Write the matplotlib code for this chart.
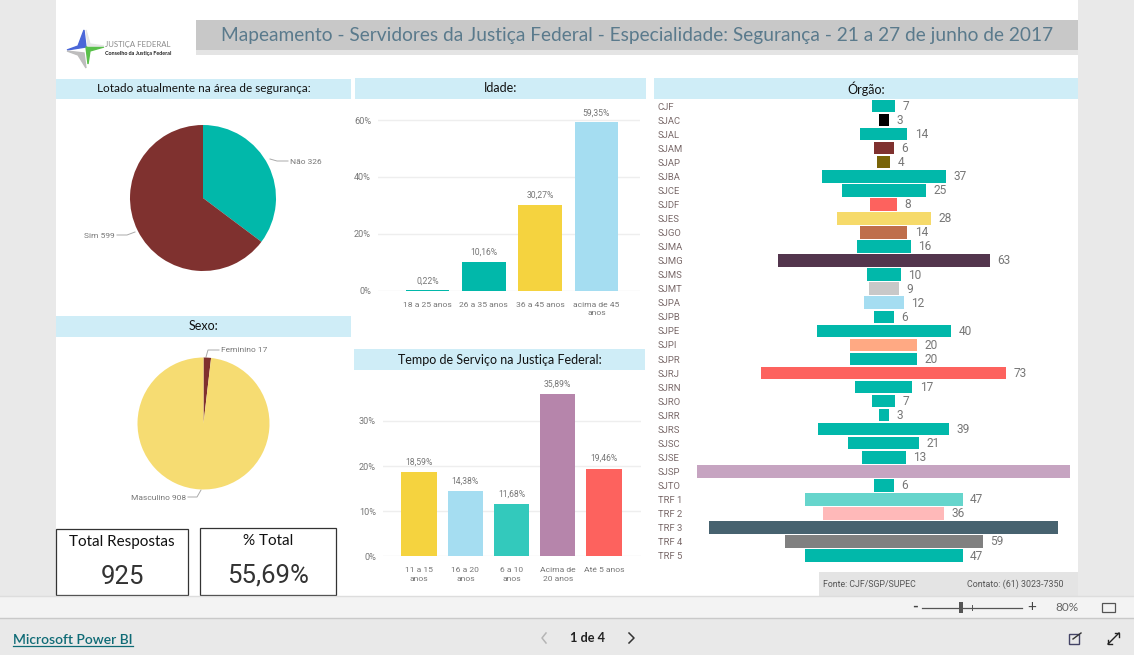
import matplotlib
matplotlib.use("Agg")
import matplotlib.pyplot as plt
from matplotlib.patches import Polygon, Rectangle

W, H = 1134, 655
plt.rcParams["font.family"] = ["Lato", "DejaVu Sans"]
LABEL_FONT = "Roboto"
GREY = "#777777"

# Values
lotado_labels = ["Não", "Sim"]
lotado_values = [326, 599]
sexo_labels = ["Feminino", "Masculino"]
sexo_values = [17, 908]

idade_labels = ["18 a 25 anos", "26 a 35 anos", "36 a 45 anos", "acima de 45\nanos"]
idade_values = [0.22, 10.16, 30.27, 59.35]
idade_colors = ["#01B8AA", "#01B8AA", "#F5D33F", "#A5DDF1"]
idade_ticks = [0, 20, 40, 60]

tempo_labels = ["11 a 15\nanos", "16 a 20\nanos", "6 a 10\nanos", "Acima de\n20 anos", "Até 5 anos"]
tempo_values = [18.59, 14.38, 11.68, 35.89, 19.46]
tempo_colors = ["#F5D33F", "#A5DDF1", "#33C9BC", "#B685AB", "#FD625E"]
tempo_ticks = [0, 10, 20, 30]

orgaos = ["CJF", "SJAC", "SJAL", "SJAM", "SJAP", "SJBA", "SJCE", "SJDF", "SJES", "SJGO", "SJMA",
          "SJMG", "SJMS", "SJMT", "SJPA", "SJPB", "SJPE", "SJPI", "SJPR", "SJRJ", "SJRN", "SJRO",
          "SJRR", "SJRS", "SJSC", "SJSE", "SJSP", "SJTO", "TRF 1", "TRF 2", "TRF 3", "TRF 4", "TRF 5"]
orgao_values = [7, 3, 14, 6, 4, 37, 25, 8, 28, 14, 16, 63, 10, 9, 12, 6, 40, 20, 20, 73, 17, 7,
                3, 39, 21, 13, 111, 6, 47, 36, 104, 59, 47]
orgao_colors = ["#01B8AA", "#000000", "#01B8AA", "#7F312F", "#796408", "#01B8AA", "#01B8AA", "#FD625E",
                "#F6DA6A", "#BF6E4B", "#01B8AA", "#53354D", "#01B8AA", "#C8C8C8", "#A5DDF1", "#01B8AA",
                "#01B8AA", "#FFA983", "#01B8AA", "#FD625E", "#01B8AA", "#01B8AA", "#01B8AA", "#01B8AA",
                "#01B8AA", "#01B8AA", "#C6A4C1", "#01B8AA", "#66D5CC", "#FFB9B9", "#47626F", "#808080",
                "#01B8AA"]
orgao_sem_rotulo = ["SJSP", "TRF 3"]

total_respostas = "925"
pct_total = "55,69%"


def px_axes(fig, left, top, right, bottom, **kw):
    return fig.add_axes([left / W, 1 - bottom / H, (right - left) / W, (bottom - top) / H], **kw)


fig = plt.figure(figsize=(W / 100, H / 100), dpi=100, facecolor="#E9E9E9")

# page furniture, drawn in pixel coordinates
bg = px_axes(fig, 0, 0, W, H)
bg.set_xlim(0, W)
bg.set_ylim(H, 0)
bg.axis("off")


def box(x0, y0, x1, y1, color, **kw):
    bg.add_patch(Rectangle((x0, y0), x1 - x0, y1 - y0, facecolor=color, edgecolor="none", **kw))


box(56, 0, 1078, 596, "white")
box(0, 596, W, 618, "#F3F3F3")
bg.plot([0, W], [596, 596], color="#DDDDDD", lw=1)
bg.plot([0, W], [618, 618], color="#C9C9C9", lw=1)

# title
box(196, 50, 1078, 55, "#E4E4E4")
box(196, 20, 1078, 50, "#C8C8C8")
bg.text(637, 35.5, "Mapeamento - Servidores da Justiça Federal - Especialidade: Segurança - 21 a 27 de junho de 2017",
        fontsize=13.8, color="#5A7A8C", ha="center", va="center")

# logo
bg.add_patch(Polygon([(67, 50), (78, 46), (84, 30), (86, 47)], color="#4A66D8"))
bg.add_patch(Polygon([(86, 47), (104, 47), (90, 51), (88, 64)], color="#59C04A"))
bg.add_patch(Polygon([(67, 51), (84, 53), (86, 68), (78, 55)], color="#BDBDBD"))
bg.add_patch(Polygon([(86, 30), (90, 44), (104, 46), (88, 46)], color="#E6E6E6"))
bg.text(105, 45, "JUSTIÇA FEDERAL", fontsize=5.6, color="#8A8A8A", va="center")
bg.text(105, 53, "Conselho da Justiça Federal", fontsize=3.9, color="#222222", va="center", weight="bold")

# panel headers
headers = [(56, 79, 351, 99, "Lotado atualmente na área de segurança:", 8.5),
           (355, 78, 646, 99, "Idade:", 9),
           (654, 78, 1078, 99, "Órgão:", 9),
           (56, 316, 351, 337, "Sexo:", 9),
           (354, 349, 645, 370, "Tempo de Serviço na Justiça Federal:", 9)]
for x0, y0, x1, y1, txt, size in headers:
    box(x0, y0, x1, y1, "#CFEDF7")
    bg.text((x0 + x1) / 2, (y0 + y1) / 2, txt, fontsize=size, color="#111111", ha="center", va="center")

# cards
for x0, y0, x1, y1, head, val, hy, vy in [(56, 529, 188, 595, "Total Respostas", total_respostas, 542, 577),
                                          (200, 528, 336, 595, "% Total", pct_total, 541, 576)]:
    bg.add_patch(Rectangle((x0, y0), x1 - x0, y1 - y0, facecolor="white", edgecolor="#333333", lw=0.9))
    bg.text((x0 + x1) / 2, hy, head, fontsize=11, color="#111111", ha="center", va="center")
    bg.text((x0 + x1) / 2, vy, val, fontsize=18.5, color="#333333", ha="center", va="center",
            family=LABEL_FONT)

# footer strip
box(819, 572, 1078, 596, "#E4E4E4")
bg.text(823, 584.5, "Fonte: CJF/SGP/SUPEC", fontsize=6.3, color="#555555", va="center", family=LABEL_FONT)
bg.text(967, 584.5, "Contato: (61) 3023-7350", fontsize=6.4, color="#555555", va="center", family=LABEL_FONT)

# zoom control and bottom bar
bg.text(915, 607, "-", fontsize=11, color="#444444", ha="center", va="center", weight="bold")
bg.plot([922, 1022], [607.5, 607.5], color="#555555", lw=0.9)
bg.plot([972, 972], [605, 610], color="#555555", lw=0.7)
box(959, 602, 963, 613, "#555555")
bg.text(1032, 607, "+", fontsize=11, color="#444444", ha="center", va="center")
bg.text(1067, 607.5, "80%", fontsize=8.5, color="#666666", ha="center", va="center")
bg.add_patch(Rectangle((1101.5, 603), 13, 9, facecolor="none", edgecolor="#555555", lw=0.9))
bg.text(13, 639.5, "Microsoft Power BI", fontsize=10, color="#0F6B76", va="center", weight="semibold")
bg.plot([13, 133], [646, 646], color="#0F6B76", lw=0.9)
bg.text(588, 638.5, "1 de 4", fontsize=9.2, color="#222222", ha="center", va="center", weight="bold")
bg.plot([546, 542, 546], [633, 638, 643], color="#B5B5B5", lw=1.1)
bg.plot([629, 634, 629], [633, 638, 643], color="#333333", lw=1.1)
bg.add_patch(Rectangle((1069, 634), 10, 10, facecolor="none", edgecolor="#444466", lw=1))
bg.plot([1073, 1081], [639, 633], color="#333333", lw=1)
bg.plot([1108, 1119], [644, 633], color="#222222", lw=1)
bg.plot([1108, 1108, 1112], [640, 644, 644], color="#222222", lw=1)
bg.plot([1115, 1119, 1119], [633, 633, 637], color="#222222", lw=1)

# pies
pie_a = px_axes(fig, 130, 125, 276, 271)
pie_a.pie(lotado_values, colors=["#01B8AA", "#7F312F"], startangle=90, counterclock=False, radius=1)
pie_a.set_xlim(-1, 1)
pie_a.set_ylim(-1, 1)
pie_b = px_axes(fig, 137.5, 357.5, 269.5, 489.5)
pie_b.pie(sexo_values, colors=["#7F312F", "#F6DC72"], startangle=90, counterclock=False, radius=1)
pie_b.set_xlim(-1, 1)
pie_b.set_ylim(-1, 1)

bg.plot([270, 277, 288], [159, 161, 161], color="#AAAAAA", lw=0.7)
bg.text(290, 161.5, f"{lotado_labels[0]} {lotado_values[0]}", fontsize=6, color=GREY, va="center", family=LABEL_FONT)
bg.plot([117, 127, 135], [235, 235, 232], color="#AAAAAA", lw=0.7)
bg.text(115, 235.5, f"{lotado_labels[1]} {lotado_values[1]}", fontsize=6, color=GREY, va="center", ha="right", family=LABEL_FONT)
bg.plot([206, 208, 219], [357, 350, 350], color="#AAAAAA", lw=0.7)
bg.text(221, 350, f"{sexo_labels[0]} {sexo_values[0]}", fontsize=6, color=GREY, va="center", family=LABEL_FONT)
bg.plot([188, 197, 201], [497, 497, 490], color="#AAAAAA", lw=0.7)
bg.text(186, 497.5, f"{sexo_labels[1]} {sexo_values[1]}", fontsize=6, color=GREY, va="center", ha="right", family=LABEL_FONT)


def column_chart(ax, labels, values, colors, ticks, width, x0, xstep, left, right, ymax, gap):
    xs = list(range(len(values)))
    ax.patch.set_alpha(0)
    ax.bar(xs, values, width=width, color=colors, zorder=3)
    ax.set_xlim((left - x0) / xstep, (right - x0) / xstep)
    ax.set_ylim(0, ymax)
    ax.set_yticks(ticks, [f"{t}%" for t in ticks])
    ax.set_xticks(xs, labels)
    ax.grid(axis="y", color="#EEEEEE", lw=1, zorder=0)
    ax.set_axisbelow(True)
    for s in ax.spines.values():
        s.set_visible(False)
    ax.tick_params(length=0, labelcolor=GREY)
    ax.tick_params(axis="x", labelsize=6.1, pad=8)
    ax.tick_params(axis="y", labelsize=6.6, pad=5)
    for lab in ax.get_xticklabels() + ax.get_yticklabels():
        lab.set_family(LABEL_FONT)
        lab.set_linespacing(1.5)
    for x, v in zip(xs, values):
        ax.text(x, v + gap, f"{v:.2f}%".replace(".", ","), fontsize=6.2, color=GREY,
                ha="center", va="bottom", family=LABEL_FONT, zorder=4)


# Idade: 0% at y=290.5, 2.84 px per percent
ax_idade = px_axes(fig, 378, 105, 640, 290.5)
column_chart(ax_idade, idade_labels, idade_values, idade_colors, idade_ticks,
             43.5 / 56.3, 427.5, 56.3, 378, 640, 185.5 / 2.84, 1.6)

# Tempo: 0% at y=556.3, 4.51 px per percent
ax_tempo = px_axes(fig, 383, 380, 641, 556.3)
column_chart(ax_tempo, tempo_labels, tempo_values, tempo_colors, tempo_ticks,
             35.7 / 46.15, 419.2, 46.15, 383, 641, 176.3 / 4.51, 1.2)

# Orgao funnel: centred bars, 3.36 px per unit, 14.05 px per row
ax_f = px_axes(fig, 654, 99, 1078, 99 + 14.05 * 33)
ax_f.patch.set_alpha(0)
ax_f.axis("off")
ax_f.set_xlim((654 - 883.7) / 3.36, (1078 - 883.7) / 3.36)
ax_f.set_ylim(32.5, -0.5)
ax_f.barh(range(len(orgaos)), orgao_values, left=[-v / 2 for v in orgao_values], height=0.89,
          color=orgao_colors, zorder=2)
for i, (name, v) in enumerate(zip(orgaos, orgao_values)):
    ax_f.text((658 - 883.7) / 3.36, i + 0.08, name, fontsize=6.8, color="#7A6A6A", va="center", family=LABEL_FONT)
    if name not in orgao_sem_rotulo:
        ax_f.text(v / 2 + 2.2, i + 0.03, str(v), fontsize=8.6, color=GREY, va="center", family=LABEL_FONT)

fig.savefig("out.png", dpi=100, facecolor=fig.get_facecolor())
